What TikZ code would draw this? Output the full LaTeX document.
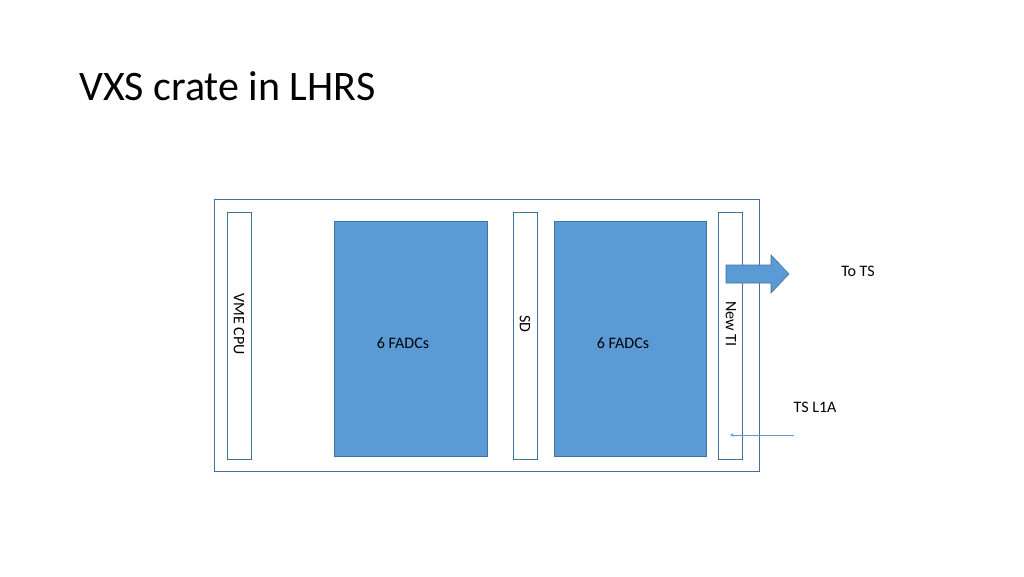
\documentclass[tikz,border=0pt]{standalone}
\usepackage{fontspec}
\setmainfont{Carlito}
\usetikzlibrary{shapes.arrows}
\definecolor{bl}{HTML}{5B9BD5}
\definecolor{bd}{HTML}{41719C}
\begin{document}
\begin{tikzpicture}[x=1pt,y=-1pt,
  slot/.style={draw=bd,fill=white,line width=0.6pt},
  board/.style={draw=bd,fill=bl,line width=0.6pt},
  lbl/.style={font=\fontsize{16}{18}\selectfont}]
\useasboundingbox (0,0) rectangle (1024,576);
\node[anchor=west,font=\fontsize{42}{46}\selectfont] (title) at (76,86) {VXS crate in LHRS};
\draw[draw=bd,line width=0.6pt] (214,199) rectangle (759,471);
\draw[slot] (227,212) rectangle (251,459);
\node[lbl,rotate=-90] (vme) at (239,324) {VME CPU};
\draw[board] (334,221) rectangle (487,456);
\node[lbl] (f1) at (403,343) {6 FADCs};
\draw[slot] (513,212) rectangle (537,459);
\node[lbl,rotate=-90] (sd) at (525,324) {SD};
\draw[board] (554,221) rectangle (706,456);
\node[lbl] (f2) at (623,343) {6 FADCs};
\draw[slot] (718,212) rectangle (742,459);
\node[lbl,rotate=-90] (ti) at (731,324) {New TI};
\draw[board] (726,265) -- (771,265) -- (771,255) -- (789,274) -- (771,293) -- (771,283) -- (726,283) -- cycle;
\node[lbl] (tots) at (858,271) {To TS};
\node[lbl] (l1a) at (815,407) {TS L1A};
\coordinate (s) at (794,435);
\coordinate (e) at (730,435);
\draw[bl,line width=0.6pt,-stealth] (s) -- (e);
\end{tikzpicture}
\end{document}
